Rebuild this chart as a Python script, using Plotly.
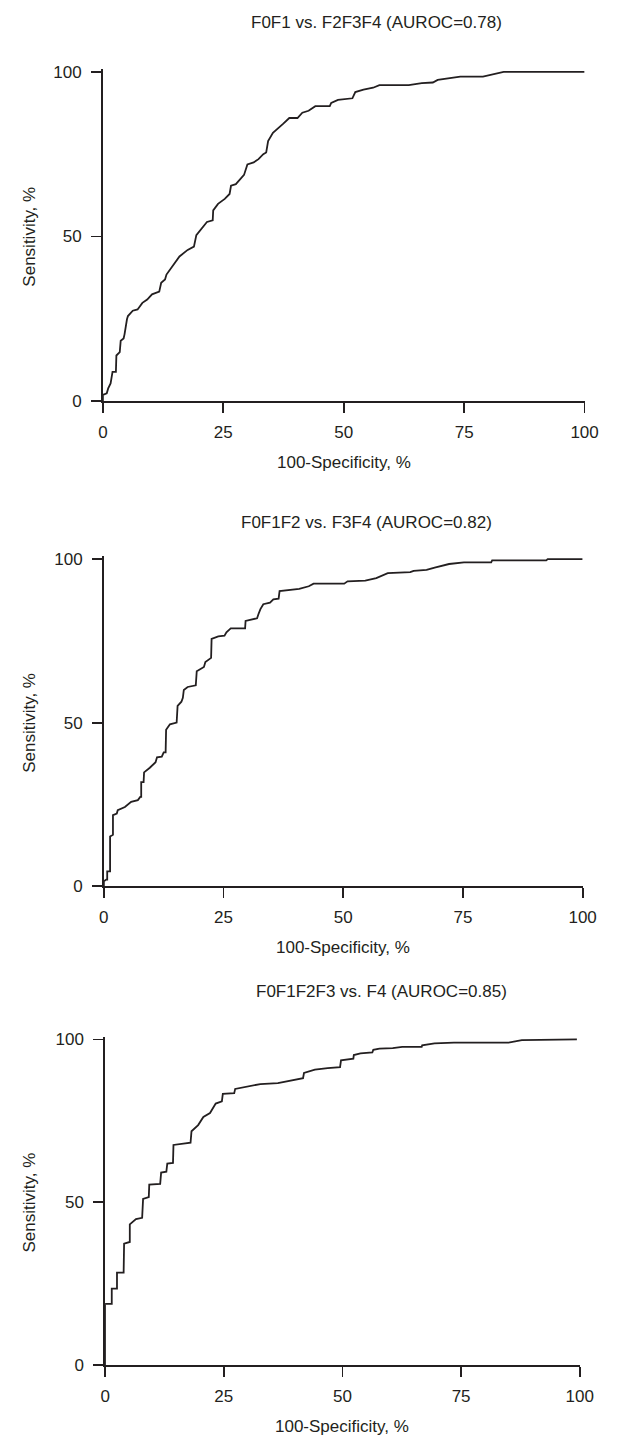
import plotly.graph_objects as go

W, H = 617, 1444

# ---- data (100-Specificity %, Sensitivity %) ----
titles = ["F0F1 vs. F2F3F4 (AUROC=0.78)",
          "F0F1F2 vs. F3F4 (AUROC=0.82)",
          "F0F1F2F3 vs. F4 (AUROC=0.85)"]
x_title = "100-Specificity, %"
y_title = "Sensitivity, %"
tick_vals = [0, 25, 50, 75, 100]
y_tick_vals = [0, 50, 100]

fpr1 = [0, 0, 0.8, 1.1, 1.6, 2.0, 2.7, 2.8, 3.5, 3.7, 4.3, 4.5, 5.0, 5.2, 6.2, 7.2, 8.2, 9.2, 10.2, 11.7,
        12.1, 12.9, 13.2, 14.2, 15.9, 17.6, 18.9, 19.4, 20.6, 21.6, 22.8, 22.9, 23.9, 25.3, 26.3, 26.6, 27.6, 28.6, 29.3, 30.0,
        31.3, 32.3, 33.3, 33.9, 34.3, 35.3, 36.4, 37.4, 38.7, 40.4, 41.4, 42.7, 44.1, 47.1, 47.4, 48.8, 51.8, 52.4, 54.1, 56.1,
        57.4, 63.5, 66.2, 68.5, 69.5, 71.5, 74.2, 78.9, 80.9, 83.2, 100]
tpr1 = [0, 1.8, 2.3, 3.8, 5.3, 8.8, 8.8, 13.8, 14.8, 18.3, 19.0, 20.3, 24.8, 25.8, 27.4, 27.8, 29.8, 30.8, 32.4, 33.2,
        35.9, 36.9, 38.4, 40.4, 43.9, 45.9, 46.9, 50.4, 52.4, 54.4, 54.9, 57.9, 59.9, 61.4, 62.9, 65.4, 65.9, 67.4, 68.7, 71.9,
        72.5, 73.5, 75.0, 75.5, 79.0, 81.5, 82.8, 84.2, 86.0, 86.0, 87.6, 88.2, 89.6, 89.6, 90.6, 91.5, 92.0, 93.9, 94.6, 95.2,
        96.0, 96.0, 96.6, 96.8, 97.6, 98.0, 98.6, 98.6, 99.3, 100, 100]

fpr2 = [0, 0, 0.5, 0.7, 0.7, 1.3, 1.3, 1.9, 1.9, 2.7, 2.9, 4.4, 5.7, 7.1, 7.6, 7.8, 7.8, 8.3, 8.4, 9.6,
        10.8, 11.1, 12.1, 12.5, 12.9, 13.0, 13.8, 15.2, 15.4, 16.2, 16.5, 16.7, 17.5, 18.2, 19.2, 19.4, 20.9, 21.2, 22.4, 22.5,
        23.9, 25.2, 25.6, 26.5, 29.5, 29.6, 32.0, 32.3, 32.7, 33.3, 34.7, 35.4, 36.5, 36.7, 38.7, 40.8, 42.8, 43.8, 50.2, 50.9,
        54.6, 56.9, 59.3, 64.0, 64.7, 67.4, 69.1, 70.1, 72.1, 75.2, 80.9, 81.1, 92.4, 92.7, 100]
tpr2 = [0, 1.5, 2.0, 2.0, 4.5, 4.5, 15.2, 15.7, 21.7, 22.2, 23.2, 24.2, 25.8, 26.3, 27.3, 27.3, 31.8, 31.8, 34.8, 36.2,
        37.9, 39.4, 39.6, 40.9, 40.9, 47.8, 49.5, 50.0, 55.1, 56.4, 57.6, 60.0, 60.9, 61.2, 61.4, 65.7, 67.0, 68.5, 69.8, 75.6,
        76.4, 76.6, 77.6, 78.8, 78.8, 81.1, 81.9, 83.2, 84.7, 86.2, 86.7, 87.7, 87.9, 90.2, 90.5, 90.9, 91.7, 92.5, 92.5, 93.2,
        93.4, 94.2, 95.7, 96.0, 96.4, 96.7, 97.4, 97.8, 98.5, 99.0, 99.0, 99.6, 99.6, 100, 100]

fpr3 = [0, 0, 1.4, 1.4, 2.5, 2.5, 3.9, 4.0, 5.2, 5.2, 6.5, 7.8, 8.0, 9.2, 9.3, 11.6, 11.8, 12.9, 13.1, 14.3,
        14.4, 18.0, 18.2, 19.6, 20.7, 22.1, 23.3, 24.6, 24.8, 27.2, 27.4, 29.3, 32.7, 36.4, 38.8, 41.7, 41.9, 44.2, 46.9, 49.5,
        49.7, 51.5, 52.3, 52.4, 53.8, 56.3, 56.5, 57.8, 60.6, 62.6, 66.7, 66.8, 69.4, 73.5, 85.0, 87.8, 98.0, 98.3, 99.4]
tpr3 = [0, 18.8, 18.8, 23.5, 23.5, 28.4, 28.4, 37.3, 37.8, 43.2, 44.8, 45.2, 51.0, 51.6, 55.4, 55.6, 59.1, 59.4, 61.9, 62.1,
        67.6, 68.3, 71.8, 73.7, 76.2, 77.4, 80.3, 81.0, 83.3, 83.5, 84.8, 85.3, 86.3, 86.6, 87.3, 88.1, 89.7, 90.7, 91.2, 91.5,
        93.6, 94.0, 94.1, 95.2, 95.7, 96.0, 96.8, 97.2, 97.3, 97.7, 97.7, 98.2, 98.8, 99.0, 99.0, 99.8, 99.8, 100, 100]

series = [(fpr1, tpr1), (fpr2, tpr2), (fpr3, tpr3)]

# ---- layout geometry (pixels) ----
INK = "#231f20"
FONT = "Liberation Sans, Arial, sans-serif"
FS = 17
LW = 1.8
panels = [  # x0px, x100px, y0px, y100px
    (101, 598, 399.3, 66.7),
    (102, 596, 890.0, 559.3),
    (103.3, 593, 1374.3, 1045.0),
]
title_y = [17, 522, 997]
title_x = [383, 373, 388]
YTOP = 100.8

fig = go.Figure()
annotations = []
for i, ((fx, ty), (x0, x1, y0, y1)) in enumerate(zip(series, panels)):
    sfx = "" if i == 0 else str(i + 1)
    fig.add_trace(go.Scatter(x=fx, y=ty, mode="lines",
                             line=dict(color=INK, width=LW),
                             xaxis="x" + sfx, yaxis="y" + sfx,
                             showlegend=False, hoverinfo="skip"))
    ppu = (y0 - y1) / 100.0
    ytop_px = y0 - YTOP * ppu
    common = dict(showline=True, linecolor=INK, linewidth=LW, ticks="outside",
                  ticklen=10, tickwidth=LW, tickcolor=INK, showgrid=False,
                  zeroline=False, tickfont=dict(family=FONT, size=FS, color=INK),
                  fixedrange=True)
    fig.layout["xaxis" + sfx] = dict(common, domain=[x0 / W, x1 / W], range=[0, 100],
                                     tickvals=tick_vals, anchor="y" + sfx,
                                     ticklabelstandoff=5)
    fig.layout["yaxis" + sfx] = dict(common, domain=[1 - y0 / H, 1 - ytop_px / H],
                                     range=[0, YTOP], tickvals=y_tick_vals,
                                     anchor="x" + sfx, ticklabelstandoff=6)
    annotations.append(dict(text=titles[i], x=title_x[i] / W, y=1 - title_y[i] / H,
                            xref="paper", yref="paper", showarrow=False,
                            xanchor="center", yanchor="middle",
                            font=dict(family=FONT, size=FS, color=INK)))
    annotations.append(dict(text=x_title, x=(x0 + x1) / 2 / W, y=1 - (y0 + 62) / H,
                            xref="paper", yref="paper", showarrow=False,
                            xanchor="center", yanchor="middle",
                            font=dict(family=FONT, size=FS, color=INK)))
    annotations.append(dict(text=y_title, x=25 / W, y=1 - (y0 + y1) / 2 / H,
                            xref="paper", yref="paper", showarrow=False,
                            textangle=-90, xanchor="center", yanchor="middle",
                            font=dict(family=FONT, size=FS, color=INK)))

fig.update_layout(width=W, height=H, margin=dict(l=0, r=0, t=0, b=0),
                  paper_bgcolor="white", plot_bgcolor="white",
                  annotations=annotations)
fig.write_html("out.html", config={"displayModeBar": False, "staticPlot": True},
               post_script="document.body.style.margin='0';document.body.style.overflow='hidden';")
